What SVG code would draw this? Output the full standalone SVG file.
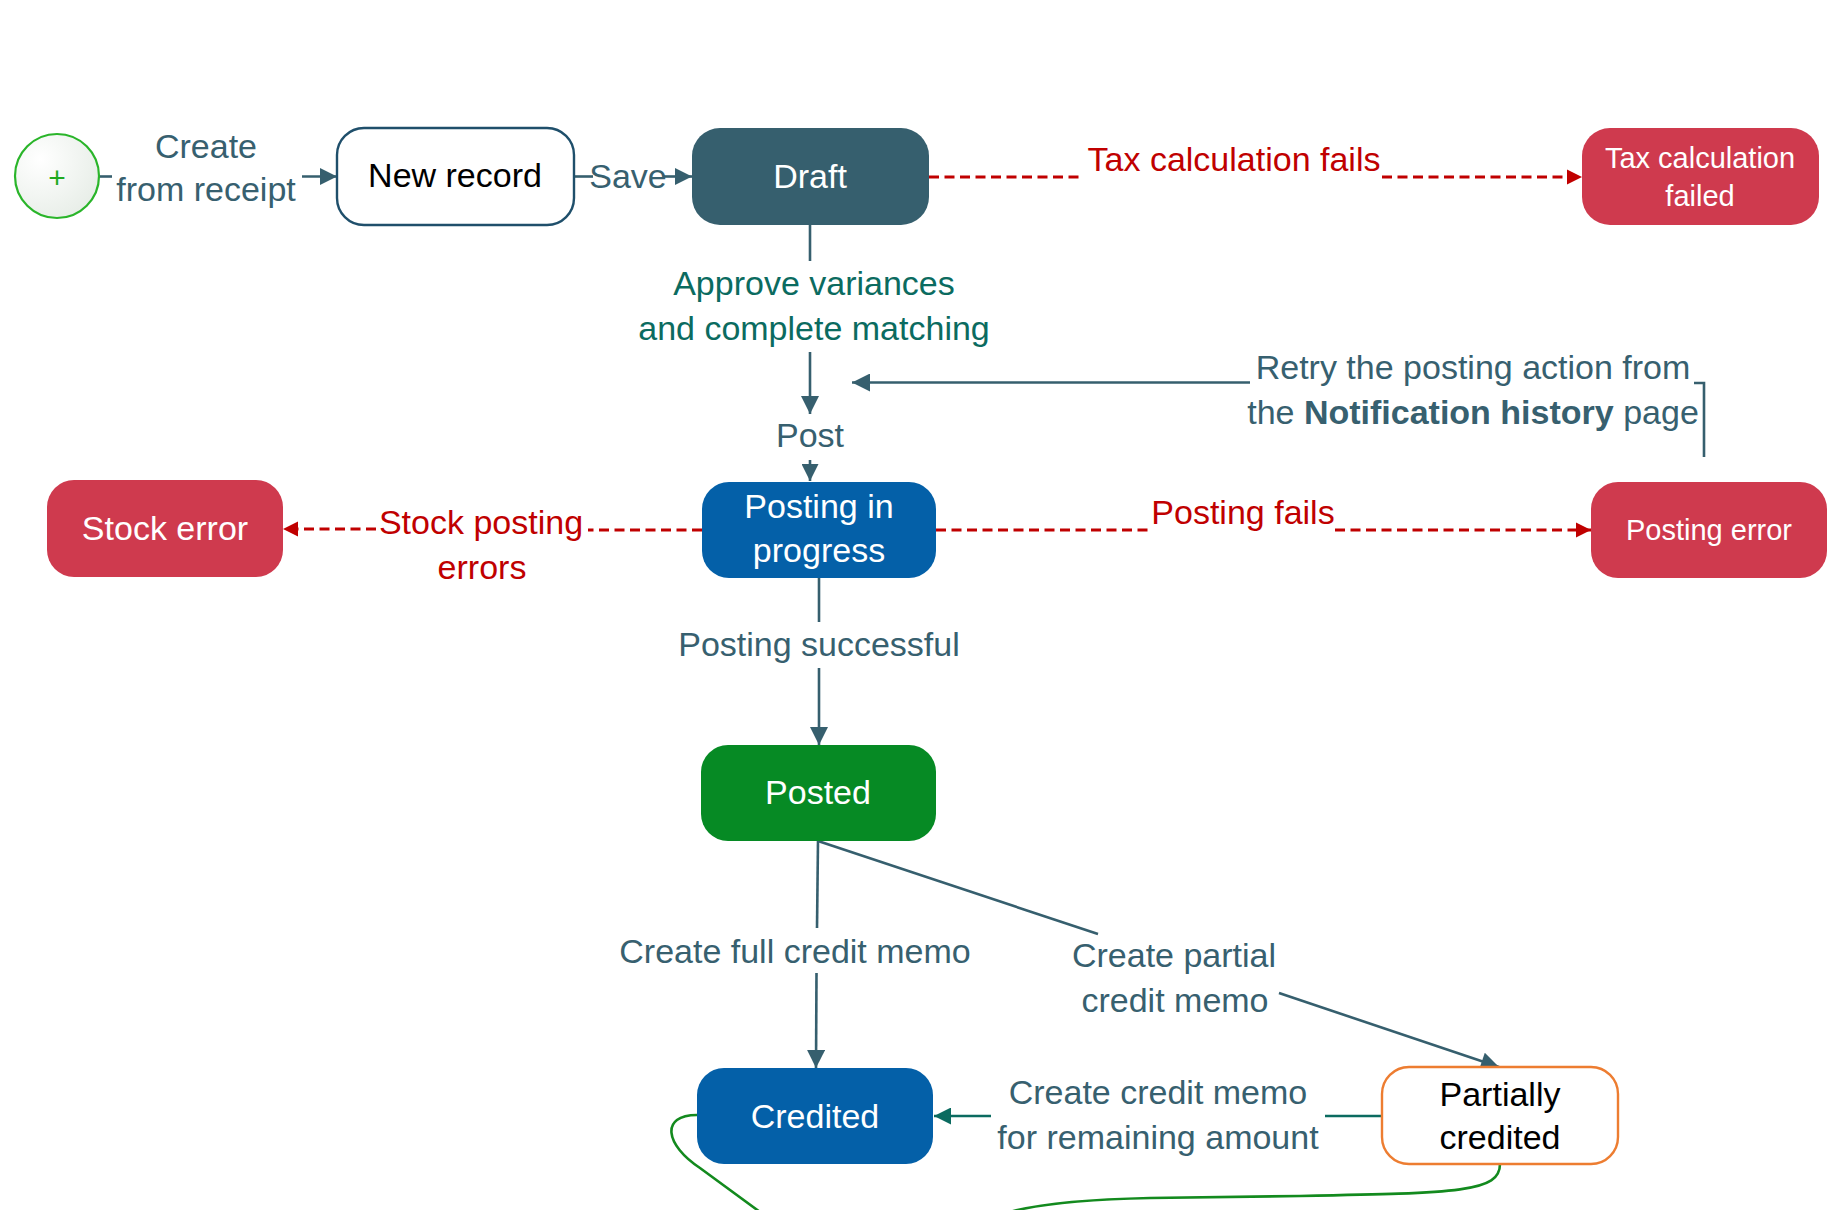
<svg xmlns="http://www.w3.org/2000/svg" width="1847" height="1210" viewBox="0 0 1847 1210">
<style>
text{font-family:"Liberation Sans",Arial,sans-serif;text-anchor:middle}
.lbl{font-size:34px;fill:#37606f}
.teal{font-size:34px;fill:#0b6b60}
.red{font-size:34px;fill:#c00000}
.nt{font-size:34px;fill:#ffffff}
.ns{font-size:29px;fill:#ffffff}
.nb{font-size:34px;fill:#000000}
.ln{stroke:#365f6e;stroke-width:2.6;fill:none}
.lt{stroke:#0b6b60;stroke-width:2.6;fill:none}
.ld{stroke:#c00000;stroke-width:2.8;fill:none;stroke-dasharray:10 5.5}
.lg{stroke:#138a1e;stroke-width:2.6;fill:none}
</style>
<defs>
<marker id="ah" viewBox="0 0 20 20" markerWidth="19" markerHeight="18" refX="20" refY="10" orient="auto" markerUnits="userSpaceOnUse"><path d="M0,0 L20,10 L0,20 Z" fill="#365f6e"/></marker>
<marker id="ahs" viewBox="0 0 20 20" markerWidth="17" markerHeight="17" refX="20" refY="10" orient="auto" markerUnits="userSpaceOnUse"><path d="M0,0 L20,10 L0,20 Z" fill="#365f6e"/></marker>
<marker id="at" viewBox="0 0 20 20" markerWidth="19" markerHeight="17" refX="20" refY="10" orient="auto" markerUnits="userSpaceOnUse"><path d="M0,0 L20,10 L0,20 Z" fill="#0b6b60"/></marker>
<marker id="ar" viewBox="0 0 20 20" markerWidth="15" markerHeight="16" refX="20" refY="10" orient="auto" markerUnits="userSpaceOnUse"><path d="M0,0 L20,10 L0,20 Z" fill="#c00000"/></marker>
<radialGradient id="sg" cx="0.3" cy="0.3" r="0.9"><stop offset="0" stop-color="#ffffff"/><stop offset="1" stop-color="#e4ebe4"/></radialGradient>
</defs>
<g id="connectors">
<line class="ln" x1="99" y1="176.5" x2="112" y2="176.5"/>
<line class="ln" x1="302" y1="176.5" x2="337" y2="176.5" marker-end="url(#ahs)"/>
<line class="ln" x1="574" y1="176.5" x2="593" y2="176.5"/>
<line class="ln" x1="663" y1="176.5" x2="692" y2="176.5" marker-end="url(#ahs)"/>
<line class="ld" x1="929" y1="177" x2="1083" y2="177"/>
<line class="ld" x1="1382" y1="177" x2="1582" y2="177" marker-end="url(#ar)"/>
<line class="ln" x1="810" y1="225" x2="810" y2="261"/>
<line class="ln" x1="810" y1="352" x2="810" y2="414" marker-end="url(#ah)"/>
<line class="ln" x1="810" y1="460" x2="810" y2="481" marker-end="url(#ahs)"/>
<polyline class="ln" points="1704,457 1704,383 1694,383"/>
<line class="ln" x1="1250" y1="382.5" x2="852" y2="382.5" marker-end="url(#ah)"/>
<line class="ld" x1="702" y1="530" x2="588" y2="530"/>
<line class="ld" x1="376" y1="529" x2="283" y2="529" marker-end="url(#ar)"/>
<line class="ld" x1="936" y1="530" x2="1152" y2="530"/>
<line class="ld" x1="1335" y1="530" x2="1591" y2="530" marker-end="url(#ar)"/>
<line class="ln" x1="819" y1="578" x2="819" y2="622"/>
<line class="ln" x1="819" y1="668" x2="819" y2="745" marker-end="url(#ah)"/>
<line class="ln" x1="818" y1="841" x2="817" y2="928"/>
<line class="ln" x1="816.5" y1="973" x2="816" y2="1068" marker-end="url(#ah)"/>
<line class="ln" x1="818" y1="841" x2="1098" y2="934"/>
<line class="ln" x1="1279" y1="993" x2="1499" y2="1067" marker-end="url(#ah)"/>
<line class="lt" x1="1382" y1="1116" x2="1325" y2="1116"/>
<line class="lt" x1="991" y1="1116" x2="934" y2="1116" marker-end="url(#at)"/>
<path class="lg" d="M1500,1164 C1500,1192 1460,1193 1300,1196 L1150,1198 C1060,1200 1020,1208 1000,1215 C900,1260 800,1240 760,1212 L700,1168 C665,1145 660,1115 697,1115"/>
<text class="lbl" x="206" y="158">Create</text>
<text class="lbl" x="206" y="201">from receipt</text>
<text class="lbl" x="628" y="188">Save</text>
<text class="red" x="1234" y="171">Tax calculation fails</text>
<text class="teal" x="814" y="295">Approve variances</text>
<text class="teal" x="814" y="340">and complete matching</text>
<text class="lbl" x="810" y="447">Post</text>
<text class="lbl" x="1473" y="379">Retry the posting action from</text>
<text class="lbl" x="1473" y="424">the <tspan font-weight="bold">Notification history</tspan> page</text>
<text class="red" x="481" y="534">Stock posting</text>
<text class="red" x="482" y="579">errors</text>
<text class="red" x="1243" y="524">Posting fails</text>
<text class="lbl" x="819" y="656">Posting successful</text>
<text class="lbl" x="795" y="963">Create full credit memo</text>
<text class="lbl" x="1174" y="967">Create partial</text>
<text class="lbl" x="1175" y="1012">credit memo</text>
<text class="lbl" x="1158" y="1104">Create credit memo</text>
<text class="lbl" x="1158" y="1149">for remaining amount</text>
</g>
<g id="start">
<circle cx="57" cy="176" r="42" fill="url(#sg)" stroke="#2ab52a" stroke-width="2.2"/>
<text x="57" y="188" style="font-size:30px;fill:#1faa1f">+</text>
</g>
<g id="new-record">
<rect x="337" y="128" width="237" height="97" rx="27" fill="#ffffff" stroke="#1f4f6b" stroke-width="2.4"/>
<text class="nb" x="455" y="187">New record</text>
</g>
<g id="draft">
<rect x="692" y="128" width="237" height="97" rx="28" fill="#365f6e"/>
<text class="nt" x="810" y="188">Draft</text>
</g>
<g id="tax-failed">
<rect x="1582" y="128" width="237" height="97" rx="28" fill="#cf3a4e"/>
<text class="ns" x="1700" y="168">Tax calculation</text>
<text class="ns" x="1700" y="206">failed</text>
</g>
<g id="posting-in-progress">
<rect x="702" y="482" width="234" height="96" rx="27" fill="#0460a8"/>
<text class="nt" x="819" y="518">Posting in</text>
<text class="nt" x="819" y="562">progress</text>
</g>
<g id="stock-error">
<rect x="47" y="480" width="236" height="97" rx="27" fill="#cf3a4e"/>
<text class="nt" x="165" y="540">Stock error</text>
</g>
<g id="posting-error">
<rect x="1591" y="482" width="236" height="96" rx="27" fill="#cf3a4e"/>
<text class="ns" x="1709" y="540">Posting error</text>
</g>
<g id="posted">
<rect x="701" y="745" width="235" height="96" rx="27" fill="#068a24"/>
<text class="nt" x="818" y="804">Posted</text>
</g>
<g id="credited">
<rect x="697" y="1068" width="236" height="96" rx="27" fill="#0460a8"/>
<text class="nt" x="815" y="1128">Credited</text>
</g>
<g id="partially-credited">
<rect x="1382" y="1067" width="236" height="97" rx="27" fill="#ffffff" stroke="#ed7d31" stroke-width="2.4"/>
<text class="nb" x="1500" y="1106">Partially</text>
<text class="nb" x="1500" y="1149">credited</text>
</g>
</svg>
